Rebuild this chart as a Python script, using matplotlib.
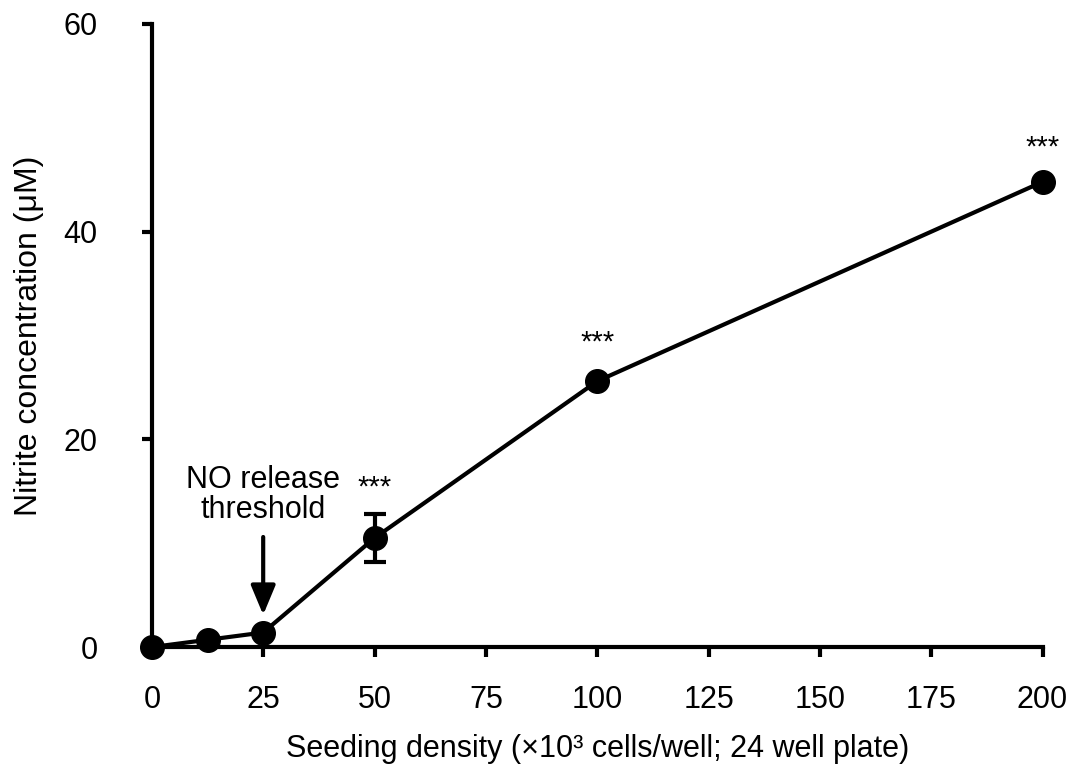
import matplotlib
matplotlib.use("Agg")
import matplotlib.pyplot as plt

plt.rcParams['font.family'] = ['Liberation Sans', 'DejaVu Sans']

# data
density = [0, 12.5, 25, 50, 100, 200]
nitrite = [0.0, 0.7, 1.4, 10.5, 25.6, 44.8]
nitrite_err = [0, 0, 0, 2.35, 0, 0]
star_x = [50, 100, 200]
star_y = [15.4, 29.3, 48.1]
xticks = [0, 25, 50, 75, 100, 125, 150, 175, 200]
yticks = [0, 20, 40, 60]

fig = plt.figure(figsize=(10.77, 7.74), dpi=100)
ax = fig.add_axes([0.141, 0.164, 0.827, 0.805])

ax.errorbar(density, nitrite, yerr=nitrite_err, color='black', lw=3,
            marker='o', markersize=17, capsize=8, capthick=3, elinewidth=3,
            clip_on=False, zorder=3)

for x, y in zip(star_x, star_y):
    ax.text(x, y, '***', ha='center', va='center', fontsize=21)

# threshold annotation
ax.annotate('', xy=(25, 3.1), xytext=(25, 10.6),
            arrowprops=dict(arrowstyle='-|>,head_length=1.8,head_width=0.75',
                            color='black', lw=3, shrinkA=0, shrinkB=0))
ax.text(25, 14.6, 'NO release\nthreshold', ha='center', va='center',
        fontsize=22, linespacing=1.0)

ax.set_xlim(0, 200)
ax.set_ylim(0, 60)
ax.set_xticks(xticks)
ax.set_yticks(yticks)
ax.spines['top'].set_visible(False)
ax.spines['right'].set_visible(False)
for s in ['left', 'bottom']:
    ax.spines[s].set_linewidth(3)
ax.tick_params(axis='both', width=3, length=7, labelsize=22, direction='out')
ax.tick_params(axis='x', pad=20)
ax.tick_params(axis='y', pad=32)

ax.set_xlabel('Seeding density (×10³ cells/well; 24 well plate)', fontsize=22, labelpad=14)
ax.set_ylabel('Nitrite concentration (μM)', fontsize=23, labelpad=14)

fig.savefig('out.png', dpi=100)
